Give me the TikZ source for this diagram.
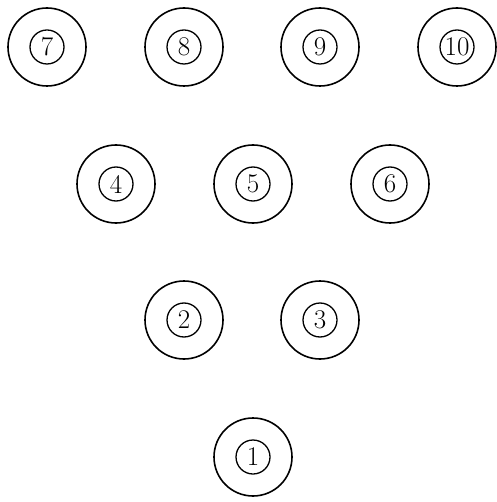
\documentclass[tikz,border=0pt]{standalone}
\begin{document}
\begin{tikzpicture}[x=1pt,y=-1pt,
  outer/.style={circle,draw,line width=1.6pt,minimum size=78pt,inner sep=0pt},
  inner/.style={circle,draw,line width=1.3pt,minimum size=34pt,inner sep=0pt,font=\fontsize{27}{27}\selectfont}]
\useasboundingbox (0,0) rectangle (496,502);
\foreach \n/\x/\y in {7/47/47,8/184/47,9/320/47,10/457/47,4/116/184,5/253/184,6/390/184,2/184/320,3/320/320,1/253/457}{
  \node[outer] (o\n) at (\x,\y) {};
  \node[inner] (i\n) at (\x,\y) {\n};
}
\end{tikzpicture}
\end{document}
